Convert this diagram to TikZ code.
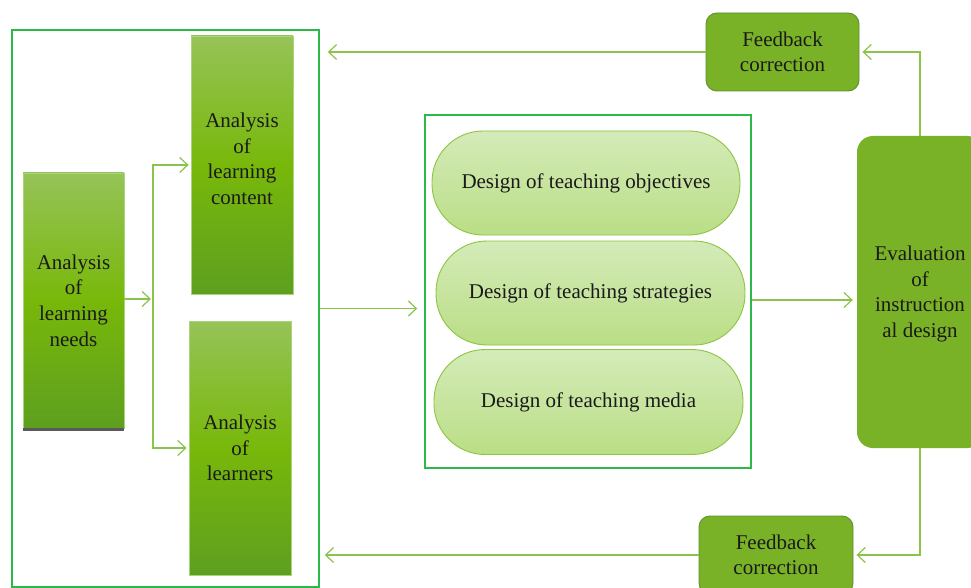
\documentclass[tikz,border=0pt]{standalone}
\usepackage{fontspec}
\setmainfont{Liberation Serif}
\usetikzlibrary{arrows.meta}
\definecolor{frameGreen}{HTML}{2DB84C}
\definecolor{linkGreen}{HTML}{8CC34B}
\definecolor{boxTop}{HTML}{96C358}
\definecolor{boxMid}{HTML}{78B80A}
\definecolor{boxBot}{HTML}{5E9F20}
\definecolor{boxEdge}{HTML}{A9D47A}
\definecolor{solidGreen}{HTML}{7AB227}
\definecolor{solidEdge}{HTML}{5C8E2C}
\definecolor{pillTop}{HTML}{D4EBB8}
\definecolor{pillBot}{HTML}{BADE86}
\definecolor{pillEdge}{HTML}{8DC540}
\definecolor{ink}{HTML}{1A1A1A}
\definecolor{shadowGray}{HTML}{5A5A5A}

\begin{document}
\begin{tikzpicture}[x=1pt,y=-1pt,
  font=\fontsize{21}{25.6}\selectfont, text=ink,
  frame/.style={draw=frameGreen, line width=1.5pt, inner sep=0pt},
  stepbox/.style={draw=boxEdge, line width=0.8pt, top color=boxTop,
    bottom color=boxBot, middle color=boxMid, align=center, inner sep=0pt},
  pill/.style={draw=pillEdge, line width=0.9pt, top color=pillTop,
    bottom color=pillBot, rounded corners=51pt, inner sep=0pt},
  solid/.style={fill=solidGreen, align=center, inner sep=0pt},
  conn/.style={draw=linkGreen, line width=1.4pt,
    -{Straight Barb[length=8pt,width=15pt,line width=1.2pt]}},
  plain/.style={draw=linkGreen, line width=1.4pt}]

\useasboundingbox (0,0) rectangle (971,588);
\fill[white] (0,0) rectangle (971,588);

% analysis stage
\node[frame, minimum width=307pt, minimum height=557pt] (outer) at (165.5,308.5) {};
\node[stepbox, minimum width=101pt, minimum height=255pt] (needs) at (73.5,300.5)
  {Analysis\\of\\learning\\needs};
\draw[shadowGray, line width=2.2pt] ([yshift=-1pt]needs.south west) -- ([yshift=-1pt]needs.south east);
\node[stepbox, minimum width=102pt, minimum height=258pt] (content) at (242,165) {};
\node[align=center, inner sep=0pt] (contentText) at ([yshift=6pt]content.center)
  {Analysis\\of\\learning\\content};
\node[stepbox, minimum width=102pt, minimum height=254pt] (learners) at (240,448)
  {Analysis\\of\\learners};

% design stage
\node[frame, minimum width=326pt, minimum height=353pt] (design) at (588,291.5) {};
\node[pill, minimum width=308pt, minimum height=104pt] (goals) at (586,183)
  {Design of teaching objectives};
\node[pill, minimum width=309pt, minimum height=104pt] (strategies) at (590.5,293)
  {Design of teaching strategies};
\node[pill, minimum width=309pt, minimum height=105pt] (media) at (588.5,402)
  {Design of teaching media};

% evaluation and feedback
\node[solid, rounded corners=16pt, minimum width=126pt, minimum height=312pt] (eval) at (920,292) {};
\node[align=center, inner sep=0pt] (evalText) at ([yshift=-2pt]eval.center)
  {Evaluation\\of\\instruction\\al design};
\node[solid, draw=solidEdge, line width=0.9pt, rounded corners=11pt,
  minimum width=153pt, minimum height=78pt] (fbtop) at (782.5,52)
  {Feedback\\correction};
\node[solid, draw=solidEdge, line width=0.9pt, rounded corners=11pt,
  minimum width=154pt, minimum height=78pt] (fbbot) at (776,555)
  {Feedback\\correction};

% connectors
\coordinate (split) at (153,299);
\draw[conn, shorten >=2pt] (needs.east |- split) -- (split);
\draw[conn, shorten >=2pt] (split) |- (content.west);
\draw[conn, shorten >=2pt] (split) |- (learners.west);
\draw[plain] (split |- content.west) -- (split |- learners.west);

\draw[conn, shorten >=7pt] (outer.east) -- (design.west |- outer.east);
\draw[conn, shorten >=4pt] (design.east |- 0,300) -- (eval.west |- 0,300);

\draw[conn, shorten >=3pt] (eval.north) |- (fbtop.east);
\draw[conn, shorten >=8pt] (fbtop.west) -- (outer.east |- fbtop.west);
\draw[conn, shorten >=3pt] (eval.south) |- (fbbot.east);
\draw[conn, shorten >=5pt] (fbbot.west) -- (outer.east |- fbbot.west);
\end{tikzpicture}
\end{document}
